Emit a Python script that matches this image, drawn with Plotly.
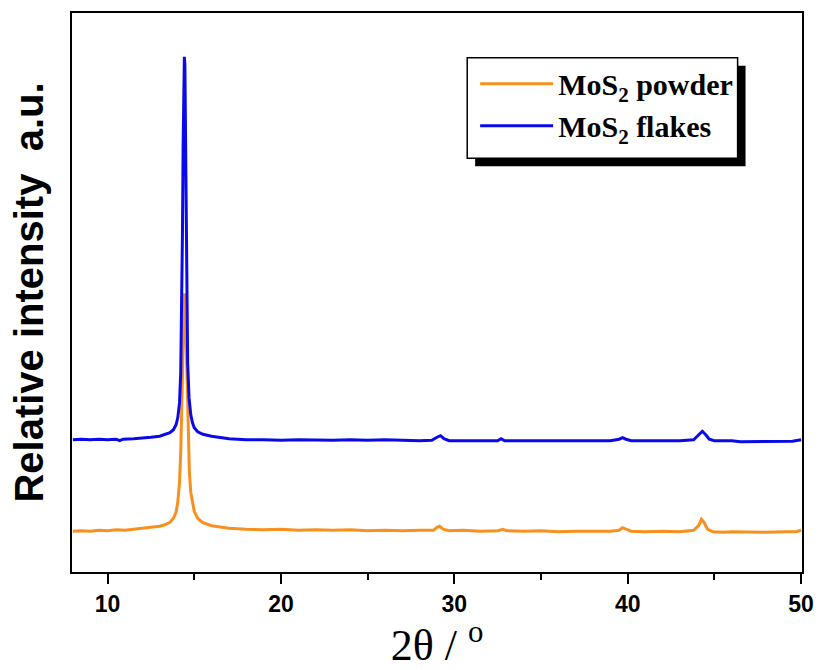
import plotly.graph_objects as go

# 2θ positions and relative intensities (as plotted, offset curves)
x_flakes = [8.0, 8.5, 9.0, 9.5, 10.0, 10.5, 10.7, 10.9, 11.5, 12.0, 12.5, 13.0, 13.3, 13.6, 13.8,
            13.95, 14.05, 14.15, 14.22, 14.28, 14.32, 14.36, 14.40, 14.43, 14.46, 14.49, 14.52,
            14.56, 14.62, 14.7, 14.8, 14.9, 15.0, 15.2, 15.5, 16.0, 16.5, 17.0, 17.5, 18.0, 19.0,
            20.0, 21.0, 22.0, 23.0, 24.0, 25.0, 26.0, 26.5, 27.0, 28.0, 28.7, 29.0, 29.2, 29.4,
            29.7, 30.5, 31.5, 32.5, 32.7, 32.9, 34.0, 35.0, 36.0, 37.0, 38.0, 39.0, 39.5, 39.7,
            39.9, 40.2, 41.0, 42.0, 43.0, 43.8, 44.1, 44.3, 44.5, 44.7, 45.0, 46.0, 46.5, 47.0,
            48.0, 49.0, 49.5, 50.0]
y_flakes = [133, 133.5, 133, 133.5, 133, 133.5, 132, 133.5, 134, 134.5, 135.5, 136.5, 138, 140, 143,
            148, 155, 170, 200, 260, 340, 430, 505, 518, 510, 450, 360,
            280, 210, 175, 158, 150, 145, 141, 138.5, 136.5, 135, 134, 133.5, 133, 133,
            132.5, 133, 132.5, 132.5, 133, 132.5, 133, 132.5, 132.5, 132, 132.5, 135.5, 137, 134,
            132, 132, 132, 132, 134, 132, 132, 132, 132, 132, 132, 132, 133.5, 135,
            133.5, 132, 132, 132, 132, 133, 137.5, 141.5, 138, 133.5, 132, 132, 131, 131,
            131, 131, 131.5, 133]

x_powder = [8.0, 8.5, 9.0, 9.5, 10.0, 10.5, 11.0, 11.5, 12.0, 12.5, 13.0, 13.3, 13.6, 13.8, 13.95,
            14.05, 14.15, 14.22, 14.28, 14.33, 14.38, 14.43, 14.48, 14.53, 14.58, 14.65, 14.72,
            14.8, 14.9, 15.0, 15.2, 15.5, 16.0, 16.5, 17.0, 18.0, 19.0, 20.0, 21.0, 22.0, 23.0,
            24.0, 25.0, 26.0, 27.0, 28.0, 28.8, 29.0, 29.15, 29.35, 29.7, 30.5, 31.5, 32.5, 32.8,
            33.0, 34.0, 35.0, 36.0, 37.0, 38.0, 39.0, 39.5, 39.7, 39.9, 40.2, 41.0, 42.0, 43.0,
            43.8, 44.1, 44.25, 44.4, 44.6, 44.9, 45.5, 46.0, 47.0, 48.0, 49.0, 49.7, 50.0]
y_powder = [41, 41.5, 41, 42, 41.5, 42.5, 42, 43, 43.5, 44.5, 46, 47.5, 50, 54, 60,
            70, 90, 120, 165, 215, 262, 280, 270, 230, 180, 130, 100,
            80, 68, 61, 54, 49.5, 46.5, 45, 44, 43, 42.5, 43, 42, 42.5, 42,
            42.5, 41.5, 42, 41.5, 42, 42, 45, 46, 43, 41.5, 42, 41, 41.5, 43,
            41.5, 41, 41.5, 40.5, 41, 41, 41, 42, 44.5, 43, 41, 40.5, 41, 40.5,
            42, 47, 53, 50, 43, 40.5, 40, 40.5, 40, 40, 40.5, 40.5, 42]

x_ticks = [10, 20, 30, 40, 50]
x_ticklabels = ["10", "20", "30", "40", "50"]

names = ["MoS<sub>2</sub> powder", "MoS<sub>2</sub> flakes"]
colors = ["#F7901E", "#0A0AE8"]

fig = go.Figure()
fig.add_trace(go.Scatter(x=x_powder, y=y_powder, mode="lines", name=names[0],
                         line=dict(color=colors[0], width=3)))
fig.add_trace(go.Scatter(x=x_flakes, y=y_flakes, mode="lines", name=names[1],
                         line=dict(color=colors[1], width=3)))

W, H = 825, 670
L, R, T, B = 72, 16, 11, 97
pw, ph = W - L - R, H - T - B

def px(xp):
    return (xp - L) / pw

def py(yp):
    return (H - B - yp) / ph

# legend shadow and box
fig.add_shape(type="rect", xref="paper", yref="paper",
              x0=px(479), x1=px(752), y0=py(165), y1=py(64),
              fillcolor="black", line=dict(width=0), layer="above")
fig.add_shape(type="rect", xref="paper", yref="paper",
              x0=px(471), x1=px(744), y0=py(157), y1=py(56),
              fillcolor="white", line=dict(color="black", width=1.5), layer="above")

fig.update_layout(
    width=W, height=H,
    margin=dict(l=L, r=R, t=T, b=B),
    paper_bgcolor="white", plot_bgcolor="white",
    showlegend=True,
    legend=dict(x=px(479), y=py(56), xanchor="left", yanchor="top",
                bgcolor="rgba(0,0,0,0)", borderwidth=0,
                font=dict(family="Liberation Serif", size=30, color="black", weight="bold"),
                itemwidth=73, tracegroupgap=0),
    xaxis=dict(range=[7.95, 50.05], tickvals=x_ticks, ticktext=x_ticklabels,
               ticks="outside", ticklen=10, tickwidth=2, tickcolor="black",
               minor=dict(dtick=5, tick0=0, ticks="outside", ticklen=6, tickwidth=2, tickcolor="black"),
               showline=True, linewidth=2, linecolor="black", mirror=True,
               showgrid=False, zeroline=False,
               tickfont=dict(family="Liberation Sans", size=23, color="black", weight="bold"),
               title=dict(text="2θ / <sup>o</sup>", standoff=12,
                          font=dict(family="Liberation Serif", size=44, color="black"))),
    yaxis=dict(range=[0, 562], showticklabels=False, ticks="",
               showline=True, linewidth=2, linecolor="black", mirror=True,
               showgrid=False, zeroline=False,
               title=dict(text="Relative intensity  a.u.", standoff=14,
                          font=dict(family="Liberation Sans", size=40, color="black", weight="bold"))),
)

fig.write_html("out.html")
